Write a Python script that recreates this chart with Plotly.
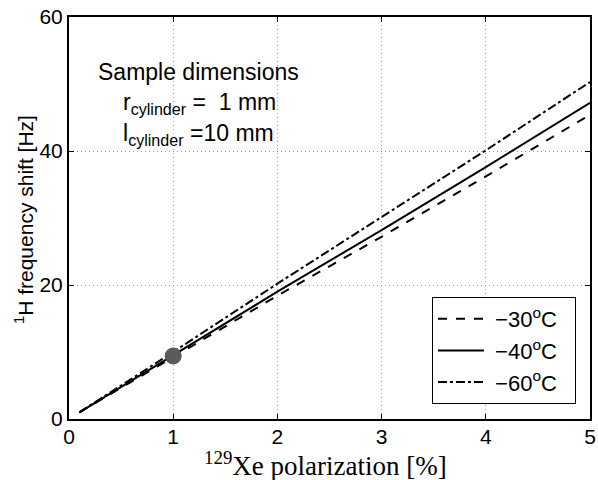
import plotly.graph_objects as go

# Data
polarization = [0.1, 1, 2, 3, 4, 5]
shift_m30 = [1.0, 9.2, 18.4, 27.2, 36.2, 45.4]
shift_m40 = [1.0, 9.5, 19.0, 28.2, 37.6, 47.2]
shift_m60 = [1.0, 10.0, 20.2, 30.2, 40.1, 50.3]
series_names = ["\u221230<sup>o</sup>C", "\u221240<sup>o</sup>C", "\u221260<sup>o</sup>C"]
series_dash = ["dash", "solid", "dashdot"]
marker_x = [1]
marker_y = [9.4]

x_ticks = [0, 1, 2, 3, 4, 5]
y_ticks = [0, 20, 40, 60]

SANS = "Liberation Sans, Arial, Helvetica, sans-serif"
SERIF = "Liberation Serif, Times New Roman, serif"

L, R, T, B = 69, 8, 17, 61
W, H = 598, 480
PW, PH = W - L - R, H - T - B

def px_to_paper(px, py):
    return (px - L) / PW, (H - B - py) / PH

fig = go.Figure()
for name, ys, dash in zip(series_names, [shift_m30, shift_m40, shift_m60], series_dash):
    fig.add_trace(go.Scatter(
        x=polarization, y=ys, mode="lines", name=" " + name + "  ",
        line=dict(color="black", width=2, dash=dash),
    ))

fig.add_trace(go.Scatter(
    x=marker_x, y=marker_y, mode="markers", showlegend=False,
    marker=dict(color="#5a5a5a", size=17, line=dict(width=0)),
))

axis_common = dict(
    showline=True, linecolor="black", linewidth=2, mirror="ticks",
    ticks="inside", ticklen=5, tickcolor="black", tickwidth=1,
    showgrid=True, gridcolor="#9a9a9a", griddash="1px,3px", gridwidth=1,
    zeroline=False, tickfont=dict(family=SANS, size=21, color="black"),
    automargin=False,
)

fig.update_layout(
    width=W, height=H,
    margin=dict(l=L, r=R, t=T, b=B, autoexpand=False),
    paper_bgcolor="white", plot_bgcolor="white",
    xaxis=dict(range=[0, 5], tickvals=x_ticks, ticktext=[str(v) for v in x_ticks],
               ticklabelstandoff=-2, **axis_common),
    yaxis=dict(range=[0, 60], tickvals=y_ticks, ticktext=[str(v) for v in y_ticks],
               **axis_common),
    legend=dict(x=px_to_paper(576, 0)[0], y=px_to_paper(0, 404)[1],
                xanchor="right", yanchor="bottom",
                bordercolor="black", borderwidth=1, bgcolor="white",
                font=dict(family=SANS, size=22, color="black"),
                itemwidth=46, tracegroupgap=0),
    showlegend=True,
)

# axis titles
xx, yy = px_to_paper(325, 464)
fig.add_annotation(x=xx, y=yy, xref="paper", yref="paper", showarrow=False,
                   text="<sup>129</sup>Xe polarization [%]", xanchor="center", yanchor="middle",
                   font=dict(family=SERIF, size=27, color="black"))
xx, yy = px_to_paper(24, 220)
fig.add_annotation(x=xx, y=yy, xref="paper", yref="paper", showarrow=False,
                   text="<sup>1</sup>H frequency shift [Hz]", textangle=-90,
                   xanchor="center", yanchor="middle",
                   font=dict(family=SANS, size=21, color="black"))

ann_font = dict(family=SANS, size=23, color="black")
for txt, px, py in [("Sample dimensions", 96, 72),
                    ("r<sub>cylinder</sub> =  1 mm", 121, 103),
                    ("l<sub>cylinder</sub> =10 mm", 121, 134)]:
    xx, yy = px_to_paper(px, py)
    fig.add_annotation(x=xx, y=yy, xref="paper", yref="paper", showarrow=False,
                       text=txt, xanchor="left", yanchor="middle", font=ann_font)

fig.write_html("out.html", config={"displayModeBar": False},
               post_script="document.body.style.margin='0';document.body.style.padding='0';")
